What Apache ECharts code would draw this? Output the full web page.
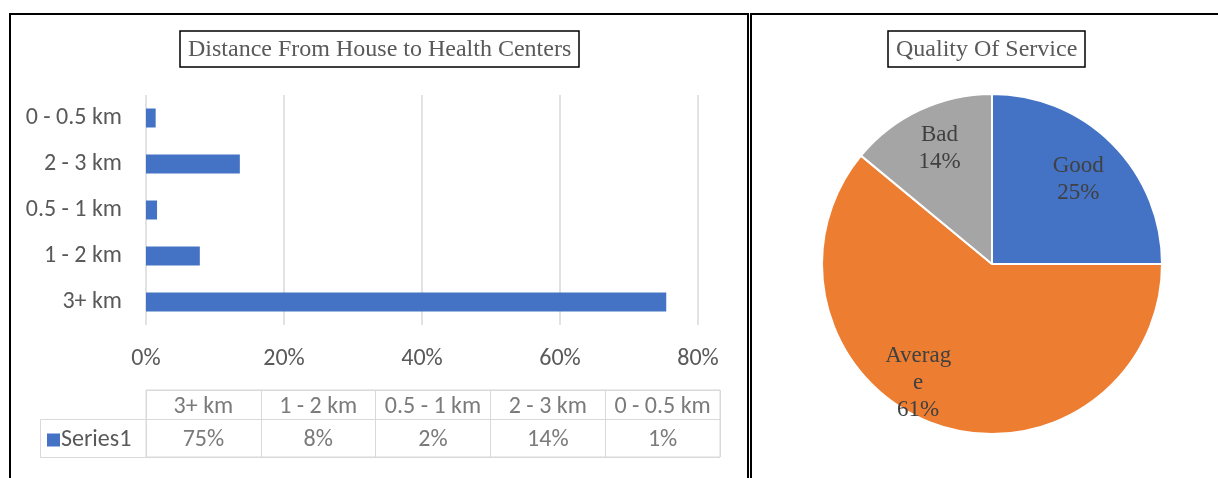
<!DOCTYPE html>
<html><head><meta charset="utf-8">
<script src="https://cdn.jsdelivr.net/npm/echarts@6/dist/echarts.min.js"></script>
<style>html,body{margin:0;padding:0;background:#fff}#c{width:1218px;height:478px}</style>
</head><body><div id="c"></div>
<script>
// ---- data ----
const distanceCategories = ['3+ km', '1 - 2 km', '0.5 - 1 km', '2 - 3 km', '0 - 0.5 km'];
const distanceValues = [0.754, 0.078, 0.016, 0.136, 0.014];
const seriesName = 'Series1';
const xTickMax = 0.8;
const xTickStep = 0.2;
const qualityNames = ['Good', 'Average', 'Bad'];
const qualityValues = [25, 61, 14];
const titles = ['Distance From House to Health Centers', 'Quality Of Service'];

// ---- styling ----
const sans = 'Carlito, "Noto Sans", sans-serif';
const serif = '"Liberation Serif", "Times New Roman", serif';
const gray = '#595959';
const lineGray = '#d9d9d9';
const pieColors = ['#4472C4', '#ED7D31', '#A5A5A5'];
const tableRowSplit = 38, tableHeight = 67;
const fs = 24;

const chart = echarts.init(document.getElementById('c'), null, {renderer: 'canvas'});
const pct = v => Math.round(v * 100) + '%';

const option = {
  backgroundColor: '#fff',
  animation: false,
  title: [
    {text: titles[0], left: 180, top: 31, borderColor: '#000', borderWidth: 1.5, padding: [7, 8, 5, 8],
     textStyle: {fontFamily: serif, fontSize: 24, fontWeight: 'normal', color: gray}},
    {text: titles[1], left: 888, top: 31, borderColor: '#000', borderWidth: 1.5, padding: [7, 8, 5, 8],
     textStyle: {fontFamily: serif, fontSize: 24, fontWeight: 'normal', color: gray}}
  ],
  legend: {
    data: [seriesName], left: 47, top: 428, icon: 'rect', itemWidth: 13, itemHeight: 13,
    selectedMode: false, padding: 0,
    textStyle: {fontFamily: sans, fontSize: fs, color: gray, padding: [0, 0, 0, -4]}
  },
  grid: [
    {left: 146, width: 552, top: 95, height: 230, containLabel: false},
    {left: 146, width: 574, top: 390, height: tableHeight, show: true, borderColor: lineGray, borderWidth: 1, containLabel: false}
  ],
  xAxis: [
    {type: 'value', gridIndex: 0, min: 0, max: xTickMax, interval: xTickStep,
     axisLine: {show: false}, axisTick: {show: false},
     splitLine: {lineStyle: {color: lineGray, width: 1.5}},
     axisLabel: {formatter: v => pct(v), fontFamily: sans, fontSize: fs, color: gray, margin: 22}},
    {type: 'category', gridIndex: 1, data: distanceCategories, boundaryGap: true,
     axisLine: {show: false}, axisTick: {show: false}, axisLabel: {show: false},
     splitLine: {show: true, lineStyle: {color: lineGray, width: 1}}}
  ],
  yAxis: [
    {type: 'category', gridIndex: 0, data: distanceCategories,
     axisLine: {show: false}, axisTick: {show: false},
     axisLabel: {fontFamily: sans, fontSize: fs, color: gray, margin: 24, padding: [4, 0, 0, 0]}},
    {type: 'value', gridIndex: 1, min: 0, max: tableHeight, interval: tableRowSplit,
     axisLine: {show: false}, axisTick: {show: false}, axisLabel: {show: false},
     splitLine: {show: true, lineStyle: {color: lineGray, width: 1}}}
  ],
  series: [
    {name: seriesName, type: 'bar', xAxisIndex: 0, yAxisIndex: 0, data: distanceValues,
     barWidth: 19, itemStyle: {color: '#4472C4'}},
    {name: 'tableHeader', type: 'scatter', xAxisIndex: 1, yAxisIndex: 1, silent: true, symbolSize: 0,
     data: distanceCategories.map(c => [c, (tableRowSplit + tableHeight) / 2]),
     label: {show: true, position: 'inside', formatter: p => p.value[0], offset: [0, 2],
             fontFamily: sans, fontSize: fs, color: gray}},
    {name: 'tableValues', type: 'scatter', xAxisIndex: 1, yAxisIndex: 1, silent: true, symbolSize: 0,
     data: distanceCategories.map((c, i) => [c, tableRowSplit / 2, distanceValues[i]]),
     label: {show: true, position: 'inside', formatter: p => pct(p.value[2]), offset: [0, 2],
             fontFamily: sans, fontSize: fs, color: gray}},
    {name: 'Quality', type: 'pie', center: [992, 264], radius: 170, startAngle: 90, clockwise: true,
     silent: true,
     data: qualityNames.map((n, i) => ({name: n, value: qualityValues[i],
       label: n === 'Average' ? {width: 70, overflow: 'breakAll'} : {}})),
     itemStyle: {borderColor: '#fff', borderWidth: 2},
     color: pieColors,
     label: {show: true, position: 'inside', formatter: '{b}\n{d}%', fontFamily: serif, fontSize: 23,
             lineHeight: 27, color: '#404040', align: 'center'},
     labelLine: {show: false},
     labelLayout: p => {
       const off = [[24, -22], [-44, 36], [-15, -36]][p.dataIndex];
       return {dx: off[0], dy: off[1]};
     }}
  ],
  graphic: [
    {type: 'rect', shape: {x: 10, y: 14, width: 738, height: 520}, style: {fill: 'none', stroke: '#000', lineWidth: 2}, silent: true},
    {type: 'polyline', shape: {points: [[751, 520], [751, 14], [1230, 14]]}, style: {fill: 'none', stroke: '#000', lineWidth: 2}, silent: true},
    {type: 'polyline', shape: {points: [[146, 419.5], [40.5, 419.5], [40.5, 457.5], [146, 457.5]]}, style: {fill: 'none', stroke: lineGray, lineWidth: 1}, silent: true}
  ]
};
chart.setOption(option);
</script></body></html>
